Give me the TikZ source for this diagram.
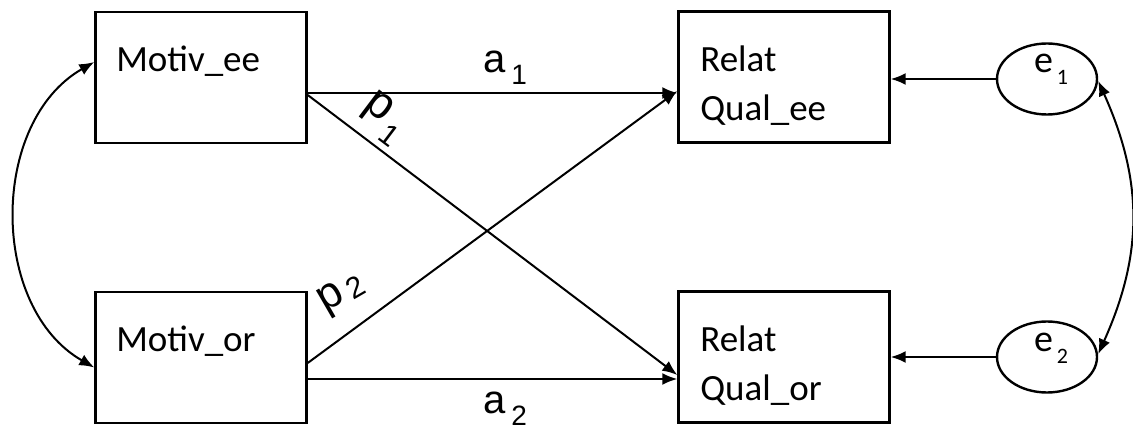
\documentclass[tikz,border=0pt]{standalone}
\usepackage{fontspec}
\setmainfont{Carlito}
\newfontfamily\coeffont{Liberation Sans}
\usetikzlibrary{arrows.meta,calc,shapes.geometric}

\begin{document}
\begin{tikzpicture}[x=0.5pt, y=-0.5pt, >={Latex[length=7.5pt,width=6pt]}, line width=1pt,
  varbox/.style={draw, line width=1.2pt, minimum width=105.5pt, minimum height=65.5pt, inner sep=0pt},
  boxtext/.style={anchor=base west, align=left, inner sep=0pt, font=\fontsize{18.5}{24.5}\selectfont},
  errnode/.style={draw, ellipse, line width=1.2pt, minimum width=50pt, minimum height=35.5pt, inner sep=0pt},
  errtext/.style={anchor=base west, inner sep=0pt, font=\fontsize{19}{19}\selectfont},
  coef/.style={inner sep=0pt, font=\coeffont\fontsize{20}{20}\selectfont}]
  \useasboundingbox (0,0) rectangle (1133,432);
  % variables
  \node[varbox] (mee) at (201,77.5) {};
  \node[varbox] (mor) at (201,357.5) {};
  \node[varbox] (ree) at (784,77) {};
  \node[varbox] (ror) at (784,357) {};
  \node[boxtext] (meetext) at ([shift={(10.5pt,-30.5pt)}]mee.north west) {Motiv\_ee};
  \node[boxtext] (mortext) at ([shift={(10.5pt,-30.5pt)}]mor.north west) {Motiv\_or};
  \node[boxtext] (reetext) at ([shift={(11pt,-55pt)}]ree.north west) {Relat\\Qual\_ee};
  \node[boxtext] (rortext) at ([shift={(11pt,-55pt)}]ror.north west) {Relat\\Qual\_or};
  % residuals
  \node[errnode] (e1) at (1047,79) {};
  \node[errnode] (e2) at (1047,357) {};
  \node[errtext] (e1text) at (1033,73) {e\kern2pt\raisebox{-6pt}{\fontsize{11}{11}\selectfont 1}};
  \node[errtext] (e2text) at (1033,351) {e\kern2pt\raisebox{-6pt}{\fontsize{11}{11}\selectfont 2}};
  % paths
  \draw[->] ([yshift=-7.75pt]mee.east) -- ([yshift=-8pt]ree.west);
  \draw[->] ([yshift=-8.75pt]mee.east) -- ([yshift=-9pt]ror.west);
  \draw[->] ([yshift=-2.75pt]mor.east) -- ([yshift=-7pt]ree.west);
  \draw[->] ([yshift=-10.75pt]mor.east) -- ([yshift=-11pt]ror.west);
  \draw[->] (e1.west) -- (e1.west -| ree.east);
  \draw[->] (e2.west) -- (e2.west -| ror.east);
  % covariances
  \draw[<->] ([yshift=7.75pt]mee.west) .. controls ($([yshift=7.75pt]mee.west)+(-105,60)$)
    and ($([yshift=-5pt]mor.west)+(-105,-60)$) .. ([yshift=-5pt]mor.west);
  \draw[<->] ([yshift=-1pt]e1.east) .. controls ($([yshift=-1pt]e1.east)+(45,100)$)
    and ($([yshift=1.5pt]e2.east)+(45,-100)$) .. ([yshift=1.5pt]e2.east);
  % coefficients
  \node[coef, anchor=base west] (a1) at (482,73) {a\kern3pt\raisebox{-6pt}{\fontsize{14}{14}\selectfont 1}};
  \node[coef, anchor=base west] (a2) at (482,413) {a\kern3pt\raisebox{-6pt}{\fontsize{14}{14}\selectfont 2}};
  \node[coef, rotate=-37, font=\coeffont\fontsize{23}{23}\selectfont] (p1) at (384,118)
    {p\kern2pt\raisebox{-8pt}{\fontsize{15}{15}\selectfont 1}};
  \node[coef, rotate=30, font=\coeffont\fontsize{22}{22}\selectfont] (p2) at (342,294)
    {p\kern3pt\raisebox{-2pt}{\fontsize{15}{15}\selectfont 2}};
\end{tikzpicture}
\end{document}
